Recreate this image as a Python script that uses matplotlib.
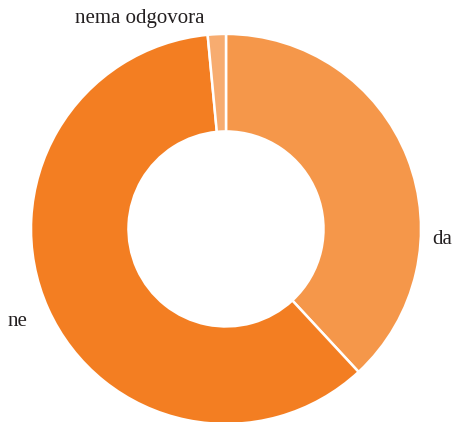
import matplotlib.pyplot as plt

# answer shares (%)
labels = ["da", "ne", "nema odgovora"]
values = [38.1, 60.4, 1.5]
colors = ["#F5974A", "#F37E22", "#F7AC70"]

fig = plt.figure(figsize=(4.54, 4.22), dpi=100)
ax = fig.add_axes([31 / 454, 0, 390 / 454, 390 / 422])

ax.pie(values, colors=colors, startangle=90, counterclock=False,
       radius=1.0, wedgeprops=dict(width=0.5, edgecolor="white", linewidth=1.8))
ax.set_xlim(-1, 1)
ax.set_ylim(-0.99, 1.01)
ax.set_aspect("equal")
ax.axis("off")

font = dict(family="Liberation Serif", size=15, color="#231F20")
ax.text(1.056, -0.056, labels[0], ha="left", va="center", **font)
ax.text(-1.118, -0.477, labels[1], ha="left", va="center", **font)
ax.text(-0.441, 1.077, labels[2], ha="center", va="center", **font)

fig.savefig("out.png", dpi=100)
